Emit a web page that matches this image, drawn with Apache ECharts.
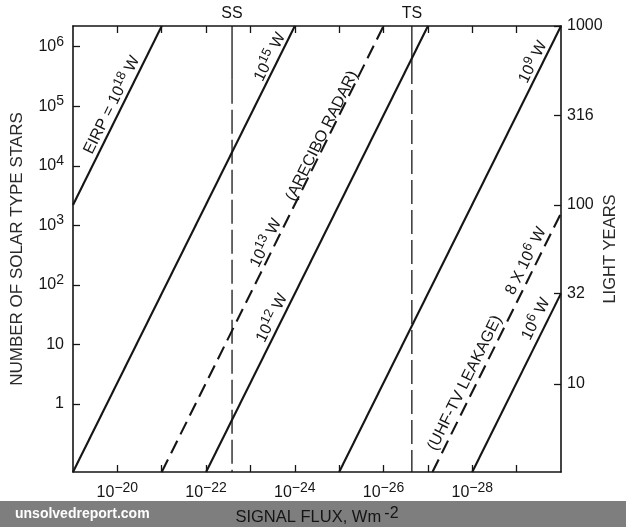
<!DOCTYPE html>
<html><head><meta charset="utf-8">
<script src="https://cdn.jsdelivr.net/npm/echarts@6/dist/echarts.min.js"></script>
<style>html,body{margin:0;padding:0;background:#fff}#c{width:626px;height:527px}</style>
</head><body><div id="c"></div>
<script>
// ---- Axis ranges ----
const fluxMin = 1e-30, fluxMax = 1e-19;          // x axis (reversed)
const starsMin = 0.072, starsMax = 2.23e6;       // left y axis
const lyMin = 3.22, lyMax = 1000;                // right y axis (light years)

// ---- Tick labels ----
const fluxTicks = [1e-20, 1e-21, 1e-22, 1e-23, 1e-24, 1e-25, 1e-26, 1e-27, 1e-28, 1e-29];
const fluxTickLabels = [1e-20, 1e-22, 1e-24, 1e-26, 1e-28];
const starTicks = [1, 10, 100, 1e3, 1e4, 1e5, 1e6];
const lyTicks = [10, 32, 100, 316, 1000];

// ---- EIRP lines: endpoints [signal flux, number of stars] ----
const eirp1e18 = [[1e-19, 2.2e3], [1e-21, 2.23e6]];
const eirp1e15 = [[1e-19, 0.072], [1e-24, 2.23e6]];
const eirp1e13 = [[1e-21, 0.072], [1e-26, 2.23e6]];   // Arecibo radar (dashed)
const eirp1e12 = [[1e-22, 0.072], [1e-27, 2.23e6]];
const eirp1e9  = [[1e-25, 0.072], [1e-30, 2.23e6]];
const eirp8e6  = [[7.9e-28, 0.072], [1e-30, 1.6e3]]; // UHF-TV leakage (dashed)
const eirp1e6  = [[1e-28, 0.072], [1e-30, 72]];

// ---- Sensitivity markers: flux, and star count where the solid top part ends ----
const ssFlux = 2.6e-23, ssSolidTo = 2.8e5;
const tsFlux = 2.3e-27, tsSolidTo = 6.0e5;

const L = Math.log10;
const FONT = '"Liberation Sans", Arial, Helvetica, sans-serif';
const INK = '#151515';

function supLabel(base, exp) {
  return '{b|' + base + '}{s|' + exp + '}';
}
function expOf(v) { return Math.round(v); }

function lineSeries(name, pts, dashed) {
  return {
    name: name, type: 'line', xAxisIndex: 0, yAxisIndex: 0,
    showSymbol: false, symbol: 'none', silent: true, animation: false,
    data: pts.map(p => [L(p[0]), L(p[1])]),
    lineStyle: { color: INK, width: 2.1, type: dashed ? [14, 7] : 'solid' },
    z: 3
  };
}
function vSeries(name, f, from, to, dashed) {
  return {
    name: name, type: 'line', xAxisIndex: 0, yAxisIndex: 0,
    showSymbol: false, symbol: 'none', silent: true, animation: false,
    data: [[L(f), L(from)], [L(f), L(to)]],
    lineStyle: { color: INK, width: 1.3, type: dashed ? [24, 6] : 'solid' },
    z: 2
  };
}

const richAxis = {
  b: { fontSize: 16, fontFamily: FONT, color: INK, lineHeight: 24, verticalAlign: 'middle' },
  s: { fontSize: 14, fontFamily: FONT, color: INK, verticalAlign: 'top' }
};

const chart = echarts.init(document.getElementById('c'), null, { renderer: 'canvas' });

const option = {
  animation: false,
  backgroundColor: '#ffffff',
  grid: { left: 73, top: 26, width: 488, height: 446, containLabel: false, outerBoundsMode: 'none' },
  xAxis: [
    {
      type: 'value', position: 'bottom', inverse: true,
      min: L(fluxMin), max: L(fluxMax), interval: 1,
      axisLine: { show: true, onZero: false, lineStyle: { color: INK, width: 1.6 } },
      axisTick: { show: true, inside: true, length: 7, lineStyle: { color: INK, width: 1.3 },
                  customValues: fluxTicks.map(L) },
      axisLabel: {
        show: true, margin: 9, customValues: fluxTickLabels.map(L),
        formatter: v => supLabel('10', '\u2212' + Math.abs(expOf(v))),
        rich: richAxis
      },
      splitLine: { show: false },
      name: '{n|SIGNAL FLUX, Wm}{s|\u2009-2}',
      nameLocation: 'middle', nameGap: 32,
      nameTextStyle: {
        rich: {
          n: { fontSize: 16.5, fontFamily: FONT, color: INK, lineHeight: 24, verticalAlign: 'middle' },
          s: { fontSize: 16, fontFamily: FONT, color: INK, verticalAlign: 'top' }
        }
      }
    },
    {
      type: 'value', position: 'top', inverse: true,
      min: L(fluxMin), max: L(fluxMax), interval: 1,
      axisLine: { show: true, onZero: false, lineStyle: { color: INK, width: 1.6 } },
      axisTick: { show: true, inside: true, length: 7, lineStyle: { color: INK, width: 1.3 },
                  customValues: fluxTicks.map(L) },
      axisLabel: { show: false },
      splitLine: { show: false }
    }
  ],
  yAxis: [
    {
      type: 'value', position: 'left',
      min: L(starsMin), max: L(starsMax),
      axisLine: { show: true, onZero: false, lineStyle: { color: INK, width: 1.6 } },
      axisTick: { show: true, inside: true, length: 7, lineStyle: { color: INK, width: 1.3 },
                  customValues: starTicks.map(L) },
      axisLabel: {
        show: true, margin: 9, customValues: starTicks.map(L),
        formatter: v => {
          const e = expOf(v);
          if (e === 0) return '{b|1}';
          if (e === 1) return '{b|10}';
          return supLabel('10', String(e));
        },
        rich: richAxis
      },
      splitLine: { show: false },
      name: 'NUMBER OF SOLAR TYPE STARS',
      nameLocation: 'middle', nameGap: 47, nameRotate: 90, nameMoveOverlap: false,
      nameTextStyle: { fontSize: 17, fontFamily: FONT, color: '#2a2a2a' }
    },
    {
      type: 'value', position: 'right',
      min: L(lyMin), max: L(lyMax),
      axisLine: { show: true, onZero: false, lineStyle: { color: INK, width: 1.6 } },
      axisTick: { show: true, inside: true, length: 7, lineStyle: { color: INK, width: 1.3 },
                  customValues: lyTicks.map(L) },
      axisLabel: {
        show: true, margin: 6, customValues: lyTicks.map(L),
        formatter: v => {
          const t = lyTicks.find(k => Math.abs(L(k) - v) < 1e-6);
          return t === undefined ? '' : String(t);
        },
        fontSize: 16, fontFamily: FONT, color: INK
      },
      splitLine: { show: false },
      name: 'LIGHT YEARS',
      nameLocation: 'middle', nameGap: 41, nameRotate: 90, nameMoveOverlap: false,
      nameTextStyle: { fontSize: 16.5, fontFamily: FONT, color: '#2a2a2a' }
    }
  ],
  series: [
    lineSeries('EIRP 1e18', eirp1e18, false),
    lineSeries('1e15', eirp1e15, false),
    lineSeries('1e13 Arecibo', eirp1e13, true),
    lineSeries('1e12', eirp1e12, false),
    lineSeries('1e9', eirp1e9, false),
    lineSeries('8e6 UHF-TV', eirp8e6, true),
    lineSeries('1e6', eirp1e6, false),
    vSeries('SS top', ssFlux, starsMax, ssSolidTo, false),
    vSeries('SS', ssFlux, ssSolidTo, starsMin, true),
    vSeries('TS top', tsFlux, starsMax, tsSolidTo, false),
    vSeries('TS', tsFlux, tsSolidTo, starsMin, true)
  ]
};
chart.setOption(option);

// ---- Annotations ----
const ANG = 63.6 * Math.PI / 180;
const richAnn = {
  b: { fontSize: 16, fontFamily: FONT, fill: INK, lineHeight: 22, verticalAlign: 'middle' },
  s: { fontSize: 13, fontFamily: FONT, fill: INK, verticalAlign: 'top' }
};
function ann(x, y, text) {
  return {
    type: 'text', x: x, y: y, rotation: ANG, z: 10, silent: true,
    style: { text: text, rich: richAnn, align: 'center', verticalAlign: 'middle', fill: INK,
             font: '16px ' + FONT }
  };
}
const ssPx = chart.convertToPixel({ xAxisIndex: 0, yAxisIndex: 0 }, [L(ssFlux), L(starsMax)]);
const tsPx = chart.convertToPixel({ xAxisIndex: 0, yAxisIndex: 0 }, [L(tsFlux), L(starsMax)]);

chart.setOption({
  graphic: [
    { type: 'rect', z: -10, silent: true, shape: { x: 0, y: 501, width: 626, height: 26 },
      style: { fill: '#7e7e7e' } },
    { type: 'text', x: 15, y: 514, z: 5, silent: true,
      style: { text: 'unsolvedreport.com', fill: '#ffffff', font: 'bold 14px ' + FONT,
               align: 'left', verticalAlign: 'middle' } },
    { type: 'text', x: ssPx[0], y: ssPx[1] - 12, z: 5, silent: true,
      style: { text: 'SS', fill: INK, font: '16px ' + FONT, align: 'center', verticalAlign: 'middle' } },
    { type: 'text', x: tsPx[0], y: tsPx[1] - 12, z: 5, silent: true,
      style: { text: 'TS', fill: INK, font: '16px ' + FONT, align: 'center', verticalAlign: 'middle' } },
    ann(112, 105, '{b|EIRP = 10}{s|18}{b| W}'),
    ann(270, 57, '{b|10}{s|15}{b| W}'),
    ann(266, 243, '{b|10}{s|13}{b| W}'),
    ann(322, 136, '{b|(ARECIBO RADAR)}'),
    ann(272, 318, '{b|10}{s|12}{b| W}'),
    ann(533, 62, '{b|10}{s|9}{b| W}'),
    ann(526, 261, '{b|8 X 10}{s|6}{b| W}'),
    ann(465, 383, '{b|(UHF-TV LEAKAGE)}'),
    ann(536, 319, '{b|10}{s|6}{b| W}')
  ]
});
</script>
</body></html>
